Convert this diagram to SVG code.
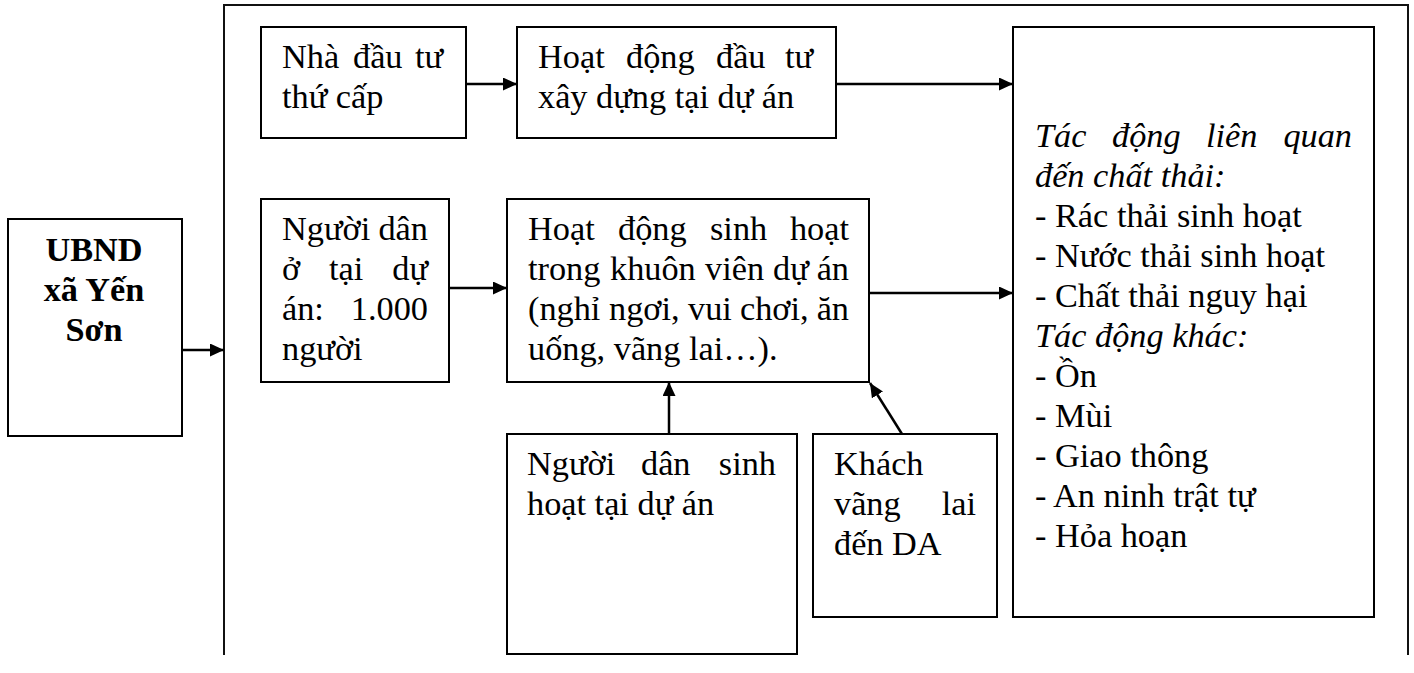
<svg xmlns="http://www.w3.org/2000/svg" width="1414" height="673" viewBox="0 0 1414 673">
<style>
  .box { fill: #fff; stroke: #000; stroke-width: 2; }
  .frame { fill: none; stroke: #111; stroke-width: 2; }
  .t { font-family: "Liberation Serif", "Times New Roman", serif; font-size: 34.3px; fill: #000; }
  .b { font-weight: bold; }
  .i { font-style: italic; }
  .conn { stroke: #000; stroke-width: 2.5; fill: none; marker-end: url(#ah); }
</style>
<defs>
  <marker id="ah" markerUnits="userSpaceOnUse" markerWidth="15" markerHeight="13" refX="14" refY="6.5" orient="auto">
    <path d="M0,0 L14,6.5 L0,13 z" fill="#000"/>
  </marker>
</defs>
<rect width="1414" height="673" fill="#fff"/>

<g id="frame">
  <path class="frame" d="M224,655 V5 H1408 V655"/>
</g>

<g id="ubnd">
  <rect class="box" x="8" y="219" width="174" height="217"/>
  <text class="t b" text-anchor="middle" x="94" y="261">UBND</text>
  <text class="t b" text-anchor="middle" x="94" y="301">xã Yến</text>
  <text class="t b" text-anchor="middle" x="94" y="341">Sơn</text>
</g>

<g id="nha-dau-tu">
  <rect class="box" x="261" y="27" width="205" height="111"/>
  <text class="t" y="68"><tspan x="282">Nhà</tspan><tspan x="353">đầu</tspan><tspan x="443" text-anchor="end">tư</tspan></text>
  <text class="t" x="282" y="108">thứ cấp</text>
</g>

<g id="hoat-dong-dau-tu">
  <rect class="box" x="517" y="27" width="319" height="111"/>
  <text class="t" y="68"><tspan x="538">Hoạt</tspan><tspan x="626">động</tspan><tspan x="716">đầu</tspan><tspan x="813" text-anchor="end">tư</tspan></text>
  <text class="t" x="538" y="108">xây dựng tại dự án</text>
</g>

<g id="nguoi-dan-o">
  <rect class="box" x="261" y="199" width="188" height="183"/>
  <text class="t" y="240"><tspan x="282">Người</tspan><tspan x="428" text-anchor="end">dân</tspan></text>
  <text class="t" y="280"><tspan x="282">ở</tspan><tspan x="329">tại</tspan><tspan x="428" text-anchor="end">dự</tspan></text>
  <text class="t" y="320"><tspan x="282">án:</tspan><tspan x="428" text-anchor="end">1.000</tspan></text>
  <text class="t" x="282" y="360">người</text>
</g>

<g id="hoat-dong-sinh-hoat">
  <rect class="box" x="507" y="199" width="362" height="183"/>
  <text class="t" y="240"><tspan x="528">Hoạt</tspan><tspan x="618">động</tspan><tspan x="710">sinh</tspan><tspan x="849" text-anchor="end">hoạt</tspan></text>
  <text class="t" y="280"><tspan x="528">trong</tspan><tspan x="610">khuôn</tspan><tspan x="705">viên</tspan><tspan x="773">dự</tspan><tspan x="849" text-anchor="end">án</tspan></text>
  <text class="t" y="320"><tspan x="528">(nghỉ</tspan><tspan x="609">ngơi,</tspan><tspan x="688">vui</tspan><tspan x="740">chơi,</tspan><tspan x="849" text-anchor="end">ăn</tspan></text>
  <text class="t" x="528" y="360">uống, vãng lai…).</text>
</g>

<g id="nguoi-dan-sinh-hoat">
  <rect class="box" x="507" y="434" width="290" height="220"/>
  <text class="t" y="475"><tspan x="527">Người</tspan><tspan x="641">dân</tspan><tspan x="776" text-anchor="end">sinh</tspan></text>
  <text class="t" x="527" y="515">hoạt tại dự án</text>
</g>

<g id="khach-vang-lai">
  <rect class="box" x="813" y="434" width="184" height="183"/>
  <text class="t" x="834" y="475">Khách</text>
  <text class="t" y="515"><tspan x="834">vãng</tspan><tspan x="976" text-anchor="end">lai</tspan></text>
  <text class="t" x="834" y="555">đến DA</text>
</g>

<g id="tac-dong">
  <rect class="box" x="1013" y="27" width="361" height="590"/>
  <text class="t i" y="147"><tspan x="1035">Tác</tspan><tspan x="1112">động</tspan><tspan x="1206">liên</tspan><tspan x="1352" text-anchor="end">quan</tspan></text>
  <text class="t i" x="1035" y="187">đến chất thải:</text>
  <text class="t" x="1035" y="227">- Rác thải sinh hoạt</text>
  <text class="t" x="1035" y="267">- Nước thải sinh hoạt</text>
  <text class="t" x="1035" y="307">- Chất thải nguy hại</text>
  <text class="t i" x="1035" y="347">Tác động khác:</text>
  <text class="t" x="1035" y="387">- Ồn</text>
  <text class="t" x="1035" y="427">- Mùi</text>
  <text class="t" x="1035" y="467">- Giao thông</text>
  <text class="t" x="1035" y="507">- An ninh trật tự</text>
  <text class="t" x="1035" y="547">- Hỏa hoạn</text>
</g>

<g id="connectors">
  <line class="conn" x1="182" y1="350" x2="224" y2="350"/>
  <line class="conn" x1="466" y1="84" x2="517" y2="84"/>
  <line class="conn" x1="836" y1="84" x2="1013" y2="84"/>
  <line class="conn" x1="449" y1="288" x2="507" y2="288"/>
  <line class="conn" x1="869" y1="293" x2="1013" y2="293"/>
  <line class="conn" x1="669" y1="434" x2="669" y2="382"/>
  <line class="conn" x1="902" y1="434" x2="870" y2="383"/>
</g>
</svg>
